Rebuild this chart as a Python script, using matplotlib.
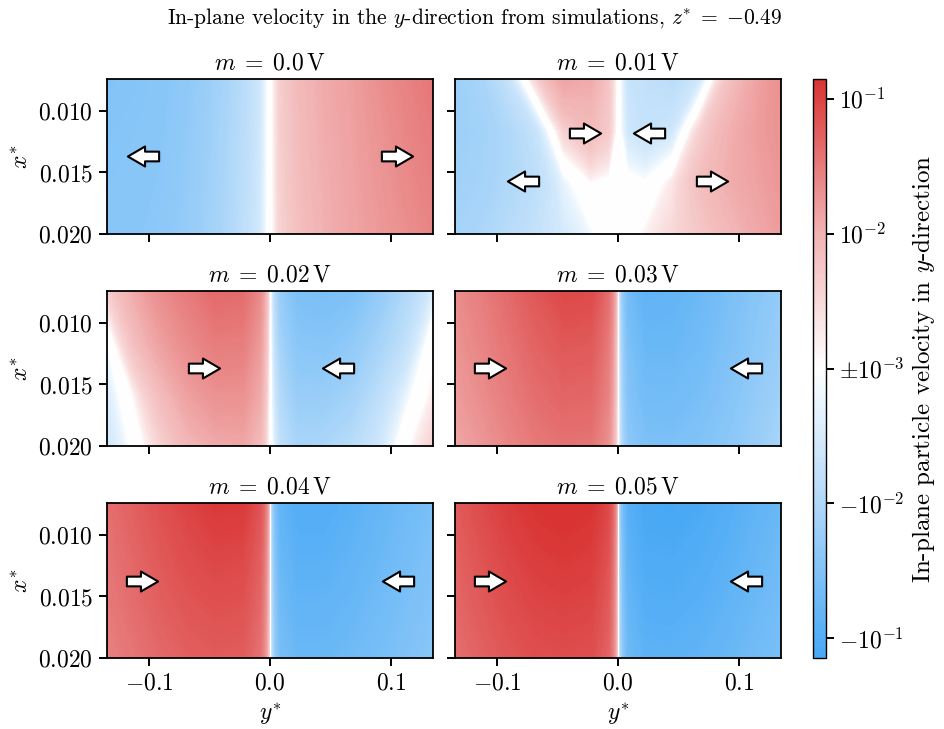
import numpy as np
import matplotlib
matplotlib.use("Agg")
import matplotlib.pyplot as plt
from matplotlib.colors import LinearSegmentedColormap, FuncNorm, Normalize
from matplotlib.cm import ScalarMappable
from matplotlib.path import Path
from matplotlib.ticker import FormatStrFormatter

plt.rcParams.update({
    "font.family": ["cmr10", "DejaVu Serif"],
    "mathtext.fontset": "cm",
    "axes.formatter.use_mathtext": True,
    "axes.unicode_minus": False,
})

# ---------------- data ----------------
y_nodes = [-0.135, -0.1125, -0.09, -0.0675, -0.045, -0.0225, -0.008, 0.0,
           0.008, 0.0225, 0.045, 0.0675, 0.09, 0.1125, 0.135]
x_nodes = [0.0074, 0.0116, 0.0158, 0.0200]

m_labels = ["0.0", "0.01", "0.02", "0.03", "0.04", "0.05"]

v_m000 = [
    [-0.030, -0.029, -0.027, -0.022, -0.015, -0.0080, -0.0040, 0.0, 0.0042, 0.0080, 0.0120, 0.015, 0.021, 0.027, 0.035],
    [-0.029, -0.028, -0.026, -0.021, -0.014, -0.0076, -0.0038, 0.0, 0.0041, 0.0076, 0.0115, 0.0145, 0.019, 0.025, 0.032],
    [-0.028, -0.027, -0.025, -0.020, -0.0135, -0.0072, -0.0037, 0.0, 0.0040, 0.0072, 0.0110, 0.014, 0.018, 0.023, 0.029],
    [-0.027, -0.026, -0.024, -0.019, -0.013, -0.0068, -0.0036, 0.0, 0.0038, 0.0068, 0.0105, 0.0135, 0.017, 0.021, 0.026],
]
v_m001 = [
    [-0.016, -0.012, -0.005, 0.004, 0.014, 0.012, 0.006, 0.0, -0.005, -0.006, -0.0076, -0.004, 0.006, 0.013, 0.021],
    [-0.016, -0.014, -0.010, -0.005, 0.004, 0.008, 0.005, 0.0, -0.004, -0.0055, -0.004, 0.004, 0.010, 0.015, 0.020],
    [-0.015, -0.013, -0.010, -0.0070, -0.002, 0.0011, 0.0005, 0.0, -0.0004, -0.0009, 0.002, 0.0072, 0.011, 0.014, 0.018],
    [-0.013, -0.011, -0.008, -0.0055, -0.0035, -0.0015, -0.0004, 0.0, 0.0004, 0.0015, 0.0033, 0.0055, 0.0085, 0.012, 0.016],
]
v_m002 = [
    [0.004, 0.012, 0.022, 0.032, 0.045, 0.042, 0.022, 0.0, -0.018, -0.036, -0.040, -0.035, -0.021, -0.010, -0.003],
    [-0.0012, 0.007, 0.015, 0.023, 0.031, 0.030, 0.016, 0.0, -0.013, -0.026, -0.028, -0.022, -0.013, -0.006, 0.0006],
    [-0.003, 0.0015, 0.008, 0.015, 0.020, 0.020, 0.012, 0.0, -0.009, -0.018, -0.018, -0.014, -0.007, -0.002, 0.0018],
    [-0.004, -0.0005, 0.004, 0.009, 0.012, 0.013, 0.008, 0.0, -0.006, -0.012, -0.011, -0.008, -0.004, 0.0006, 0.004],
]
v_m003 = [
    [0.022, 0.030, 0.045, 0.065, 0.090, 0.085, 0.040, 0.0, -0.045, -0.075, -0.070, -0.055, -0.040, -0.028, -0.020],
    [0.019, 0.026, 0.037, 0.052, 0.065, 0.062, 0.032, 0.0, -0.036, -0.058, -0.058, -0.048, -0.035, -0.025, -0.018],
    [0.016, 0.022, 0.031, 0.042, 0.050, 0.048, 0.026, 0.0, -0.030, -0.046, -0.047, -0.040, -0.030, -0.021, -0.015],
    [0.013, 0.018, 0.025, 0.033, 0.038, 0.036, 0.020, 0.0, -0.024, -0.036, -0.037, -0.032, -0.025, -0.018, -0.012],
]
v_m004 = [
    [0.040, 0.055, 0.075, 0.100, 0.125, 0.120, 0.070, 0.0, -0.070, -0.100, -0.100, -0.085, -0.065, -0.050, -0.038],
    [0.036, 0.048, 0.065, 0.082, 0.095, 0.090, 0.055, 0.0, -0.058, -0.085, -0.085, -0.072, -0.057, -0.044, -0.034],
    [0.032, 0.042, 0.055, 0.068, 0.075, 0.072, 0.045, 0.0, -0.048, -0.070, -0.070, -0.060, -0.048, -0.038, -0.030],
    [0.028, 0.036, 0.046, 0.055, 0.060, 0.058, 0.037, 0.0, -0.040, -0.057, -0.058, -0.050, -0.041, -0.033, -0.026],
]
v_m005 = [
    [0.060, 0.085, 0.115, 0.140, 0.150, 0.140, 0.090, 0.0, -0.090, -0.135, -0.140, -0.125, -0.100, -0.075, -0.058],
    [0.052, 0.072, 0.095, 0.115, 0.125, 0.115, 0.072, 0.0, -0.075, -0.115, -0.118, -0.105, -0.085, -0.065, -0.050],
    [0.046, 0.062, 0.080, 0.095, 0.100, 0.095, 0.060, 0.0, -0.062, -0.095, -0.098, -0.088, -0.072, -0.056, -0.044],
    [0.040, 0.053, 0.067, 0.078, 0.082, 0.078, 0.050, 0.0, -0.052, -0.078, -0.080, -0.072, -0.060, -0.048, -0.038],
]

# arrows: position (y*, x*) and direction (+1 right, -1 left)
arr_y_m000 = [-0.105, 0.105];  arr_x_m000 = [0.0137, 0.0137];  arr_d_m000 = [-1, 1]
arr_y_m001 = [-0.079, -0.027, 0.026, 0.078]
arr_x_m001 = [0.0157, 0.0118, 0.0118, 0.0157]
arr_d_m001 = [-1, 1, -1, 1]
arr_y_m002 = [-0.055, 0.056];  arr_x_m002 = [0.0137, 0.0137];  arr_d_m002 = [1, -1]
arr_y_m003 = [-0.106, 0.106];  arr_x_m003 = [0.0137, 0.0137];  arr_d_m003 = [1, -1]
arr_y_m004 = [-0.106, 0.106];  arr_x_m004 = [0.0137, 0.0137];  arr_d_m004 = [1, -1]
arr_y_m005 = [-0.106, 0.106];  arr_x_m005 = [0.0137, 0.0137];  arr_d_m005 = [1, -1]

cbar_ticks = [-0.1, -0.01, 0.0, 0.01, 0.1]
cbar_ticklabels = [r"$-10^{-1}$", r"$-10^{-2}$", r"$\pm10^{-3}$", r"$10^{-2}$", r"$10^{-1}$"]

fields = [v_m000, v_m001, v_m002, v_m003, v_m004, v_m005]
arrows = [(arr_y_m000, arr_x_m000, arr_d_m000), (arr_y_m001, arr_x_m001, arr_d_m001),
          (arr_y_m002, arr_x_m002, arr_d_m002), (arr_y_m003, arr_x_m003, arr_d_m003),
          (arr_y_m004, arr_x_m004, arr_d_m004), (arr_y_m005, arr_x_m005, arr_d_m005)]

# ---------------- colour mapping ----------------
LIN = 1e-3
VMAX = 0.14


def fwd(v):
    v = np.asarray(v, dtype=float)
    return np.sign(v) * np.log10(np.maximum(np.abs(v) / LIN, 1.0))


def inv(u):
    u = np.asarray(u, dtype=float)
    return np.sign(u) * LIN * 10.0 ** np.abs(u)


cmap = LinearSegmentedColormap.from_list(
    "bwr_custom", [(0.0, "#47a8f5"), (0.267, "#b0d8f9"), (0.5, "#ffffff"),
                   (0.733, "#f2b4b4"), (1.0, "#d93333")])
norm = FuncNorm((fwd, inv), vmin=-VMAX, vmax=VMAX)
umax = float(fwd(VMAX))
pos = LIN * 10 ** np.linspace(0, umax, 160)
levels = np.concatenate([-pos[::-1], pos])

# ---------------- figure ----------------
fig = plt.figure(figsize=(9.44, 7.29), dpi=100)
W, H = 944.0, 729.0
col_left = [107, 455]
row_top = [79, 291, 503]
aw, ah = 326, 155

FS = 17
arrow_r = Path([(-1, -0.31), (-0.1, -0.31), (-0.1, -0.64), (1, 0), (-0.1, 0.64),
                (-0.1, 0.31), (-1, 0.31), (-1, -0.31)], closed=True)
arrow_l = Path([(-x, y) for x, y in arrow_r.vertices], closed=True)

for i in range(6):
    r, c = divmod(i, 2)
    ax = fig.add_axes([col_left[c] / W, 1 - (row_top[r] + ah) / H, aw / W, ah / H])
    Z = np.array(fields[i])
    ax.contourf(y_nodes, x_nodes, Z, levels=levels, cmap=cmap, norm=norm, extend="both")
    ya, xa, da = arrows[i]
    for yy, xx, dd in zip(ya, xa, da):
        ax.plot([yy], [xx], linestyle="none", marker=arrow_r if dd > 0 else arrow_l,
                markersize=22.5, markerfacecolor="white", markeredgecolor="black",
                markeredgewidth=1.5, zorder=3)
    ax.set_xlim(y_nodes[0], y_nodes[-1])
    ax.set_ylim(x_nodes[-1], x_nodes[0])
    ax.set_xticks([-0.1, 0.0, 0.1])
    ax.set_yticks([0.010, 0.015, 0.020])
    ax.xaxis.set_major_formatter(FormatStrFormatter(r"$%.1f$"))
    ax.yaxis.set_major_formatter(FormatStrFormatter(r"$%.3f$"))
    ax.tick_params(labelsize=FS, length=6, width=1.4, direction="out", pad=4)
    for s in ax.spines.values():
        s.set_linewidth(1.3)
    if r < 2:
        ax.tick_params(labelbottom=False)
    else:
        ax.set_xlabel(r"$y^{*}$", fontsize=FS, labelpad=5)
    if c == 1:
        ax.tick_params(labelleft=False)
    else:
        ax.set_ylabel(r"$x^{*}$", fontsize=FS, labelpad=4)
    ax.set_title(r"$m\;=\;%s\,\mathrm{V}$" % m_labels[i], fontsize=FS, pad=7)

cax = fig.add_axes([813 / W, 1 - 658 / H, 13 / W, 579 / H])
sm = ScalarMappable(norm=Normalize(-umax, umax), cmap=cmap)
cb = fig.colorbar(sm, cax=cax)
cb.set_ticks(list(fwd(cbar_ticks)))
cb.set_ticklabels(cbar_ticklabels)
cb.ax.tick_params(labelsize=FS, length=6, width=1.4)
cb.outline.set_linewidth(1.0)
cb.set_label(r"In-plane particle velocity in $y$-direction", fontsize=18, labelpad=4)

fig.suptitle(r"In-plane velocity in the $y$-direction from simulations, $z^{*}\;=\;{-0.49}$",
             fontsize=15.5, x=0.503, y=0.975, va="center")

fig.savefig("out.png", dpi=100)
